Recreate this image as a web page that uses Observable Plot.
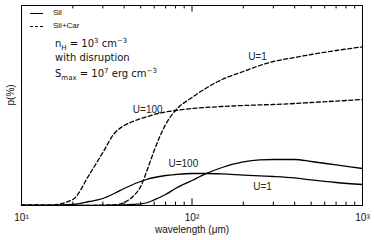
<!DOCTYPE html>
<html><head><meta charset="utf-8">
<script src="https://cdn.jsdelivr.net/npm/d3@7"></script>
<script src="https://cdn.jsdelivr.net/npm/@observablehq/plot@0.6"></script>
<style>
body{margin:0;background:#fff;}
#wrap{position:relative;width:374px;height:240px;font-family:"Liberation Sans",Arial,sans-serif;}
.lg{position:absolute;font-size:8px;color:#111;line-height:8px;}
.sw{position:absolute;width:13px;height:0;border-top:1.3px solid #000;}
.sw.d{border-top:1.3px dashed #000;}
.tx{position:absolute;font-family:"DejaVu Sans",sans-serif;font-size:10px;color:#111;line-height:12px;white-space:nowrap;}
sub,sup{font-size:7px;line-height:0;}
</style></head>
<body><div id="wrap"></div>
<script>
const wavelengths = [10,15,20,25,30,35,40,45,50,55,60,70,80,100,120,150,200,250,300,400,500,700,1000];
const silCarU100 = [0.03,0.03,0.3,1.55,2.65,3.6,4.0,4.2,4.35,4.45,4.55,4.68,4.75,4.85,4.9,4.95,5.0,5.03,5.05,5.1,5.15,5.22,5.3];
const silCarU1   = [0.01,0.01,0.01,0.01,0.02,0.03,0.15,0.45,0.95,1.85,2.75,4.05,4.75,5.4,5.85,6.3,6.7,7.0,7.2,7.4,7.55,7.75,7.93];
const silU100    = [0.01,0.01,0.05,0.2,0.35,0.6,0.85,1.05,1.2,1.32,1.4,1.5,1.55,1.6,1.6,1.58,1.52,1.48,1.45,1.38,1.28,1.15,1.05];
const silU1      = [0.01,0.01,0.01,0.01,0.01,0.02,0.03,0.05,0.08,0.15,0.28,0.55,0.85,1.25,1.58,1.9,2.18,2.28,2.3,2.3,2.2,2.03,1.85];
const majorTicks = [10,100,1000];
const tickLabels = ["10¹","10²","10³"];
const minorTicks = [20,30,40,50,60,70,80,90,200,300,400,500,600,700,800,900];
const curveLabels = [
  {x:242, y:7.45, text:"U=1"},
  {x:55, y:4.8, text:"U=100"},
  {x:89, y:2.1, text:"U=100"},
  {x:259, y:0.95, text:"U=1"}
];

const mk = arr => wavelengths.map((w,i)=>({w, p:arr[i]}));
const Y0 = 0, Y1 = 10;
const chart = Plot.plot({
  width:374, height:240,
  marginLeft:21, marginRight:12, marginTop:5, marginBottom:35,
  style:{fontFamily:"Liberation Sans, Arial, sans-serif", fontSize:"10px", background:"#fff"},
  x:{type:"log", domain:[10,1000], axis:null},
  y:{domain:[Y0,Y1], axis:null},
  marks:[
    Plot.ruleX(minorTicks,{x:d=>d, y1:Y0, y2:Y0+0.17, stroke:"#000", strokeWidth:1}),
    Plot.ruleX(minorTicks,{x:d=>d, y1:Y1-0.17, y2:Y1, stroke:"#000", strokeWidth:1}),
    Plot.ruleX(majorTicks,{x:d=>d, y1:Y0, y2:Y0+0.33, stroke:"#000", strokeWidth:1}),
    Plot.ruleX(majorTicks,{x:d=>d, y1:Y1-0.33, y2:Y1, stroke:"#000", strokeWidth:1}),
    Plot.line(mk(silCarU100),{x:"w", y:"p", curve:"monotone-x", stroke:"#000", strokeWidth:1.3, strokeDasharray:"4,2.5"}),
    Plot.line(mk(silCarU1),{x:"w", y:"p", curve:"monotone-x", stroke:"#000", strokeWidth:1.3, strokeDasharray:"4,2.5"}),
    Plot.line(mk(silU100),{x:"w", y:"p", curve:"monotone-x", stroke:"#000", strokeWidth:1.3}),
    Plot.line(mk(silU1),{x:"w", y:"p", curve:"monotone-x", stroke:"#000", strokeWidth:1.3}),
    Plot.text(curveLabels,{x:"x", y:"y", text:"text", fill:"#222", fontSize:10}),
    Plot.frame({stroke:"#000", strokeWidth:1}),
    Plot.text(majorTicks,{x:d=>d, y:Y0, text:(d,i)=>tickLabels[i], dy:12, fill:"#111", fontSize:10}),
    Plot.text(["wavelength (μm)"],{frameAnchor:"bottom", dy:27, fill:"#111", fontSize:10}),
    Plot.text(["p(%)"],{frameAnchor:"left", rotate:-90, dx:-11, fill:"#111", fontSize:10})
  ]
});
const wrap = document.getElementById("wrap");
wrap.appendChild(chart);
wrap.insertAdjacentHTML("beforeend", `
<div class="sw" style="left:30px;top:13px"></div><div class="lg" style="left:53px;top:9px">Sil</div>
<div class="sw d" style="left:30px;top:26px"></div><div class="lg" style="left:53px;top:22px">Sil+Car</div>
<div class="tx" style="left:55px;top:38px">n<sub>H</sub> = 10<sup>3</sup> cm<sup>−3</sup></div>
<div class="tx" style="left:55px;top:52px">with disruption</div>
<div class="tx" style="left:55px;top:68px">S<sub>max</sub> = 10<sup>7</sup> erg cm<sup>−3</sup></div>
`);
</script></body></html>
